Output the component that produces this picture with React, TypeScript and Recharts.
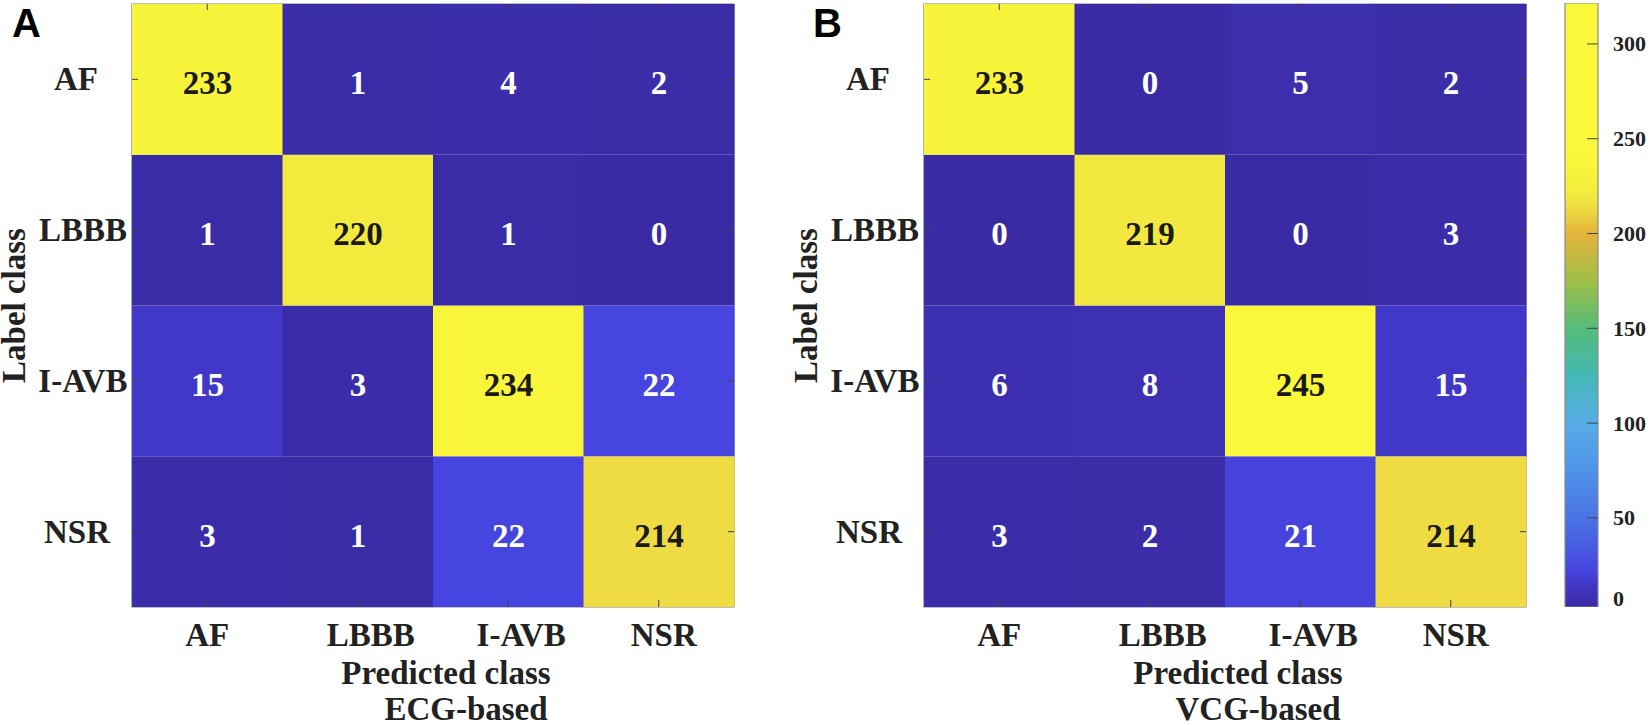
import React from 'react';
import { BarChart, Bar, XAxis, YAxis, Cell, LabelList, ReferenceArea } from 'recharts';

// ---------------- data ----------------
const classes = ['AF', 'LBBB', 'I-AVB', 'NSR'];

// ECG-based confusion matrix (rows = true label, columns = predicted class)
const ecgAF = [233, 1, 4, 2];
const ecgLBBB = [1, 220, 1, 0];
const ecgIAVB = [15, 3, 234, 22];
const ecgNSR = [3, 1, 22, 214];

// VCG-based confusion matrix
const vcgAF = [233, 0, 5, 2];
const vcgLBBB = [0, 219, 0, 3];
const vcgIAVB = [6, 8, 245, 15];
const vcgNSR = [3, 2, 21, 214];

const rowTicks = [3.5, 2.5, 1.5, 0.5];
const colorbarTicks = [0, 50, 100, 150, 200, 250, 300];
const colorbarRange = [3, 321.6];

// colour map (value -> colour)
const colormapStops: [number, string][] = [
  [0, '#3A2AA4'],
  [8, '#3D30B2'],
  [15, '#4138C8'],
  [22, '#4645DF'],
  [50, '#4A74E4'],
  [75, '#4F93E8'],
  [100, '#58ACE8'],
  [125, '#45B8B5'],
  [150, '#55BC78'],
  [175, '#A0BF48'],
  [200, '#E3B43C'],
  [214, '#EEDC42'],
  [220, '#F3EA3E'],
  [235, '#F8F63A'],
  [250, '#F9F93A'],
  [321.6, '#F9F93A'],
];

// ---------------- styles ----------------
const SERIF = "'Liberation Serif', 'Times New Roman', serif";
const SANS = "'Liberation Sans', Arial, sans-serif";
const TEXT = '#222222';
const FRAME = '#808080';
const TICK = '#444444';
const PLOT_W = 602;
const PLOT_H = 603;
const xLabelNudge = [0, 13, 13, 5];
const yLabelNudge = [-4, 3, 3, -3];

function hexToRgb(h: string) {
  const n = parseInt(h.slice(1), 16);
  return [(n >> 16) & 255, (n >> 8) & 255, n & 255];
}
function colorOf(v: number) {
  const s = colormapStops;
  if (v <= s[0][0]) return s[0][1];
  for (let i = 1; i < s.length; i++) {
    if (v <= s[i][0]) {
      const t = (v - s[i - 1][0]) / (s[i][0] - s[i - 1][0]);
      const a = hexToRgb(s[i - 1][1]);
      const b = hexToRgb(s[i][1]);
      const c = a.map((av, k) => Math.round(av + (b[k] - av) * t));
      return `rgb(${c[0]},${c[1]},${c[2]})`;
    }
  }
  return s[s.length - 1][1];
}

function buildTable(rows: number[][]) {
  return classes.map((pred, j) => {
    const o: any = { pred };
    classes.forEach((row, i) => {
      o[row] = 1; // each true-label row occupies one unit cell
      o['n_' + row] = rows[i][j];
    });
    return o;
  });
}

const ecgTable = buildTable([ecgAF, ecgLBBB, ecgIAVB, ecgNSR]);
const vcgTable = buildTable([vcgAF, vcgLBBB, vcgIAVB, vcgNSR]);

const renderCount = (props: any) => {
  const vb = props.viewBox || props;
  const x = vb.x ?? props.x;
  const y = vb.y ?? props.y;
  const w = vb.width ?? props.width;
  const h = vb.height ?? props.height;
  const v = Number(props.value);
  return (
    <text
      x={x + w / 2}
      y={y + h / 2 + 4}
      textAnchor="middle"
      dominantBaseline="central"
      fontFamily={SERIF}
      fontWeight="bold"
      fontSize={33}
      fill={v > 100 ? '#1a1a1a' : '#ffffff'}
    >
      {v}
    </text>
  );
};

const XTick = (props: any) => {
  const { x, y, payload } = props;
  const idx = classes.indexOf(payload.value);
  return (
    <g>
      <line x1={x} y1={y} x2={x} y2={y - 7} stroke={TICK} strokeWidth={1} />
      <line x1={x} y1={y - PLOT_H} x2={x} y2={y - PLOT_H + 6} stroke={TICK} strokeWidth={1} />
      <text
        x={x + (xLabelNudge[idx] || 0)}
        y={y + 28}
        textAnchor="middle"
        dominantBaseline="central"
        fontFamily={SERIF}
        fontWeight="bold"
        fontSize={33}
        fill={TEXT}
      >
        {payload.value}
      </text>
    </g>
  );
};

const YTick = (props: any) => {
  const { x, y, payload } = props;
  const idx = 3 - Math.floor(payload.value);
  return (
    <g>
      <line x1={x} y1={y} x2={x + 6} y2={y} stroke={TICK} strokeWidth={1} />
      <line x1={x + PLOT_W} y1={y} x2={x + PLOT_W - 6} y2={y} stroke={TICK} strokeWidth={1} />
      <text
        x={x - 52 + (yLabelNudge[idx] || 0)}
        y={y}
        textAnchor="middle"
        dominantBaseline="central"
        fontFamily={SERIF}
        fontWeight="bold"
        fontSize={33}
        fill={TEXT}
      >
        {classes[idx]}
      </text>
    </g>
  );
};

function ConfusionPanel({ table, letter, basis, left, yAxisWidth, rightMargin, letterOffset }: any) {
  const xTitle = (p: any) => {
    const vb = p.viewBox;
    const cx = vb.x + vb.width / 2;
    return (
      <g fontFamily={SERIF} fontWeight="bold" fontSize={33} fill={TEXT}>
        <text x={cx + 13} y={vb.y + 77} textAnchor="middle">Predicted class</text>
        <text x={cx + 33} y={vb.y + 113} textAnchor="middle">{basis}</text>
      </g>
    );
  };
  const yTitle = (p: any) => {
    const vb = p.viewBox;
    const right = vb.x + vb.width;
    const cy = vb.y + vb.height / 2;
    return (
      <g>
        <text
          x={right - 118}
          y={cy}
          transform={`rotate(-90 ${right - 118} ${cy})`}
          textAnchor="middle"
          dominantBaseline="central"
          fontFamily={SERIF}
          fontWeight="bold"
          fontSize={33}
          fill={TEXT}
        >
          Label class
        </text>
        <text x={right - letterOffset} y={37} fontFamily={SANS} fontWeight="bold" fontSize={40} fill="#000">
          {letter}
        </text>
      </g>
    );
  };
  return (
    <div style={{ position: 'absolute', left, top: 0 }}>
      <BarChart
        width={yAxisWidth + PLOT_W + rightMargin}
        height={725}
        data={table}
        margin={{ top: 4, right: rightMargin, bottom: 0, left: 0 }}
        barCategoryGap={0}
        barGap={0}
      >
        <XAxis
          dataKey="pred"
          height={118}
          tickSize={0}
          tickMargin={0}
          axisLine={false}
          interval={0}
          tick={<XTick />}
          label={{ content: xTitle }}
        />
        <YAxis
          type="number"
          domain={[0, 4]}
          ticks={rowTicks}
          width={yAxisWidth}
          tickSize={0}
          tickMargin={0}
          axisLine={false}
          interval={0}
          tick={<YTick />}
          label={{ content: yTitle }}
        />
        {[...classes].reverse().map((row) => (
          <Bar key={row} dataKey={row} stackId="cm" isAnimationActive={false}>
            {table.map((d: any, j: number) => (
              <Cell key={j} fill={colorOf(d['n_' + row])} />
            ))}
            <LabelList dataKey={'n_' + row} content={renderCount} />
          </Bar>
        ))}
        <ReferenceArea y1={0} y2={4} fill="none" stroke={FRAME} strokeWidth={1.2} ifOverflow="visible" />
      </BarChart>
    </div>
  );
}

const CB_BOTTOM = 607;

const CbTick = (props: any) => {
  const { x, y, payload } = props;
  const inside = y <= CB_BOTTOM - 2;
  const ly = Math.min(y, CB_BOTTOM - 9);
  return (
    <g>
      {inside && <line x1={x - 11} y1={y} x2={x} y2={y} stroke={TICK} strokeWidth={1} />}
      <text
        x={x + 15}
        y={ly}
        textAnchor="start"
        dominantBaseline="central"
        fontFamily={SERIF}
        fontWeight="bold"
        fontSize={22}
        fill={TEXT}
      >
        {payload.value}
      </text>
    </g>
  );
};

function ColorBar() {
  const [lo, hi] = colorbarRange;
  return (
    <div style={{ position: 'absolute', left: 1540, top: 0 }}>
      <BarChart
        width={109}
        height={725}
        data={[{ name: 'cb', range: colorbarRange }]}
        margin={{ top: 3, right: 0, bottom: 118, left: 25 }}
        barCategoryGap={0}
      >
        <defs>
          <linearGradient id="parulaBar" x1="0" y1="1" x2="0" y2="0">
            {colormapStops.map(([v, c], i) => (
              <stop key={i} offset={Math.max(0, Math.min(1, (v - lo) / (hi - lo)))} stopColor={c} />
            ))}
          </linearGradient>
        </defs>
        <XAxis dataKey="name" hide />
        <YAxis
          orientation="right"
          type="number"
          domain={colorbarRange}
          allowDataOverflow
          ticks={colorbarTicks}
          width={51}
          tickSize={0}
          tickMargin={0}
          axisLine={false}
          interval={0}
          tick={<CbTick />}
        />
        <Bar dataKey="range" fill="url(#parulaBar)" stroke="#8a8a8a" strokeWidth={1.2} isAnimationActive={false} />
      </BarChart>
    </div>
  );
}

export default function App() {
  return (
    <div style={{ position: 'absolute', left: 0, top: 0, width: 1649, height: 725, background: '#fff', overflow: 'hidden' }}>
      <ConfusionPanel table={ecgTable} letter="A" basis="ECG-based" left={0} yAxisWidth={132} rightMargin={26} letterOffset={120} />
      <ConfusionPanel table={vcgTable} letter="B" basis="VCG-based" left={780} yAxisWidth={144} rightMargin={12} letterOffset={111} />
      <ColorBar />
    </div>
  );
}
